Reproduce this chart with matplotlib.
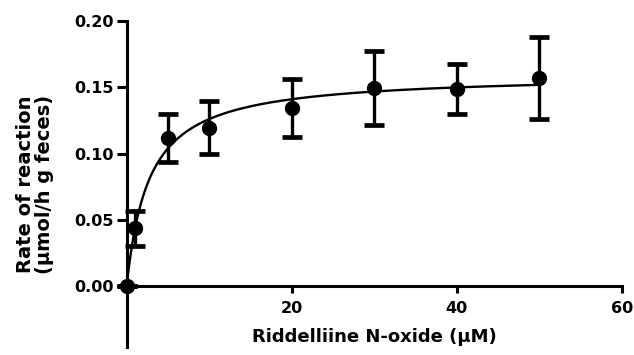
import numpy as np
import matplotlib
matplotlib.use("Agg")
import matplotlib.pyplot as plt

# substrate concentration (uM), mean rate and SD
conc = [0, 1, 5, 10, 20, 30, 40, 50]
rate = [0.000, 0.0435, 0.1115, 0.1195, 0.1341, 0.1497, 0.1489, 0.1572]
sd = [0.000, 0.013, 0.018, 0.020, 0.022, 0.028, 0.019, 0.031]

# Michaelis-Menten fit parameters
vmax = 0.160
km = 2.7

xticks = [20, 40, 60]
yticks = [0.00, 0.05, 0.10, 0.15, 0.20]

plt.rcParams['font.family'] = 'DejaVu Sans'
plt.rcParams['font.weight'] = 'bold'

fig = plt.figure(figsize=(6.34, 3.55), dpi=100)
W, H = 634.0, 355.0
ax = fig.add_axes([126.7 / W, 1 - 347 / H, (621.7 - 126.7) / W, (347 - 21) / H])

xfit = np.linspace(0, 50, 400)
ax.plot(xfit, vmax * xfit / (km + xfit), color='black', lw=1.7, clip_on=False, zorder=3)

ax.errorbar(conc, rate, yerr=sd, fmt='o', color='black', ms=10,
            elinewidth=2.4, capsize=7, capthick=3.4, clip_on=False, zorder=4)

ax.set_xlim(0, 60)
ax.set_ylim(-0.046, 0.2)

for s in ['top', 'right']:
    ax.spines[s].set_visible(False)
ax.spines['bottom'].set_position(('data', 0))
ax.spines['left'].set_linewidth(2.2)
ax.spines['bottom'].set_linewidth(2.2)

ax.set_xticks(xticks)
ax.set_yticks(yticks)
ax.set_yticklabels(['%.2f' % v for v in yticks])
ax.tick_params(axis='x', length=5, width=2.2, labelsize=11.5, pad=6)
ax.tick_params(axis='y', length=7, width=2.2, labelsize=11.5, pad=2)
for lab in ax.get_xticklabels() + ax.get_yticklabels():
    lab.set_fontweight('bold')

fig.text(374 / W, 1 - 337 / H, 'Riddelliine N-oxide (\u00b5M)', ha='center', va='center',
         fontsize=13, fontweight='bold')
fig.text(35 / W, 1 - 184 / H, 'Rate of reaction\n(\u00b5mol/h g feces)', ha='center', va='center',
         rotation=90, fontsize=14, fontweight='bold', linespacing=1.0)

fig.savefig('out.png', dpi=100)
